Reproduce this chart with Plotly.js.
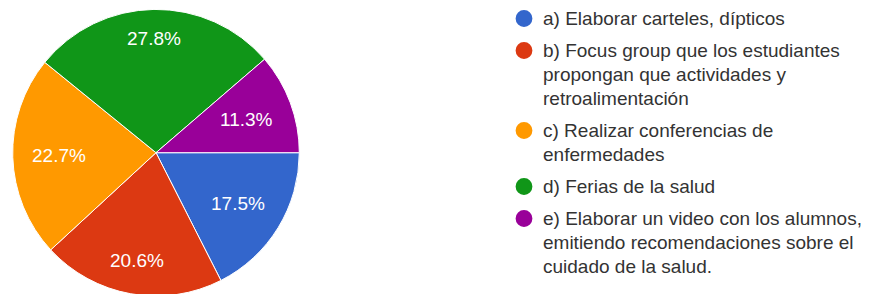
<!DOCTYPE html>
<html>
<head>
<meta charset="utf-8">
<script src="https://cdn.plot.ly/plotly-3.0.1.min.js"></script>
<style>
html, body { margin: 0; padding: 0; background: #fff; overflow: hidden; }
#chart { width: 869px; height: 298px; }
</style>
</head>
<body>
<div id="chart"></div>
<script>
// ---- data ----
const categories = [
  'a) Elaborar carteles, dípticos',
  'b) Focus group que los estudiantes<br>propongan que actividades y<br>retroalimentación',
  'c) Realizar conferencias de<br>enfermedades',
  'd) Ferias de la salud',
  'e) Elaborar un video con los alumnos,<br>emitiendo recomendaciones sobre el<br>cuidado de la salud.'
];
const values = [17.5, 20.6, 22.7, 27.8, 11.3];
const colors = ['#3366cc', '#dc3912', '#ff9900', '#109618', '#990099'];

// ---- layout constants ----
const W = 869, H = 298;
const FONT = 'Liberation Sans, Arial, Helvetica, sans-serif';
const pieLeft = 12.7, pieRight = 299.3, pieTop = 9.4, pieBottom = 296;
const legMarkerX = 524, legTextX = 541, legFirstY = 18.5, lineStep = 24, itemGap = 8, markerR = 8.4;
const legFontSize = 19, pctFontSize = 19;

const trace = {
  type: 'pie',
  labels: categories,
  values: values,
  sort: false,
  direction: 'clockwise',
  rotation: 90,
  marker: { colors: colors, line: { color: '#ffffff', width: 1 } },
  textinfo: 'none',
  hoverinfo: 'label+percent',
  domain: { x: [pieLeft / W, pieRight / W], y: [(H - pieBottom) / H, (H - pieTop) / H] }
};

const annotations = [];
const shapes = [];

// percentage labels inside slices, positioned from the data (mid-angle of each slice)
const total = values.reduce((a, b) => a + b, 0);
const cx = (pieLeft + pieRight) / 2, cy = (pieTop + pieBottom) / 2, R = (pieRight - pieLeft) / 2;
let cum = 0;
values.forEach((v, i) => {
  const theta = 2 * Math.PI * (cum + v / 2) / total; // clockwise from 3 o'clock
  cum += v;
  const txt = (100 * v / total).toFixed(1) + '%';
  const hw = txt.length * 0.55 * pctFontSize / 2, hh = pctFontSize * 0.5;
  const extent = hw * Math.abs(Math.cos(theta)) + hh * Math.abs(Math.sin(theta));
  const d = 0.865 * R - extent;
  const px = cx + d * Math.cos(theta), py = cy + d * Math.sin(theta);
  annotations.push({
    xref: 'paper', yref: 'paper', x: px / W, y: (H - py) / H,
    xanchor: 'center', yanchor: 'middle', showarrow: false, text: txt,
    font: { family: FONT, size: pctFontSize, color: '#ffffff' }
  });
});

// legend with circle markers
let y = legFirstY;
categories.forEach((cat, i) => {
  const lines = cat.split('<br>');
  shapes.push({
    type: 'circle', xref: 'paper', yref: 'paper',
    x0: (legMarkerX - markerR) / W, x1: (legMarkerX + markerR) / W,
    y0: (H - y - markerR) / H, y1: (H - y + markerR) / H,
    fillcolor: colors[i], line: { width: 0 }
  });
  lines.forEach((ln, j) => {
    annotations.push({
      xref: 'paper', yref: 'paper', x: legTextX / W, y: (H - (y + j * lineStep)) / H,
      xanchor: 'left', yanchor: 'middle', showarrow: false, text: ln,
      font: { family: FONT, size: legFontSize, color: '#333333' }
    });
  });
  y += lines.length * lineStep + itemGap;
});

const layout = {
  width: W, height: H,
  margin: { l: 0, r: 0, t: 0, b: 0 },
  paper_bgcolor: '#ffffff',
  showlegend: false,
  annotations: annotations,
  shapes: shapes,
  font: { family: FONT }
};

Plotly.newPlot('chart', [trace], layout, { displayModeBar: false, staticPlot: true });
</script>
</body>
</html>
